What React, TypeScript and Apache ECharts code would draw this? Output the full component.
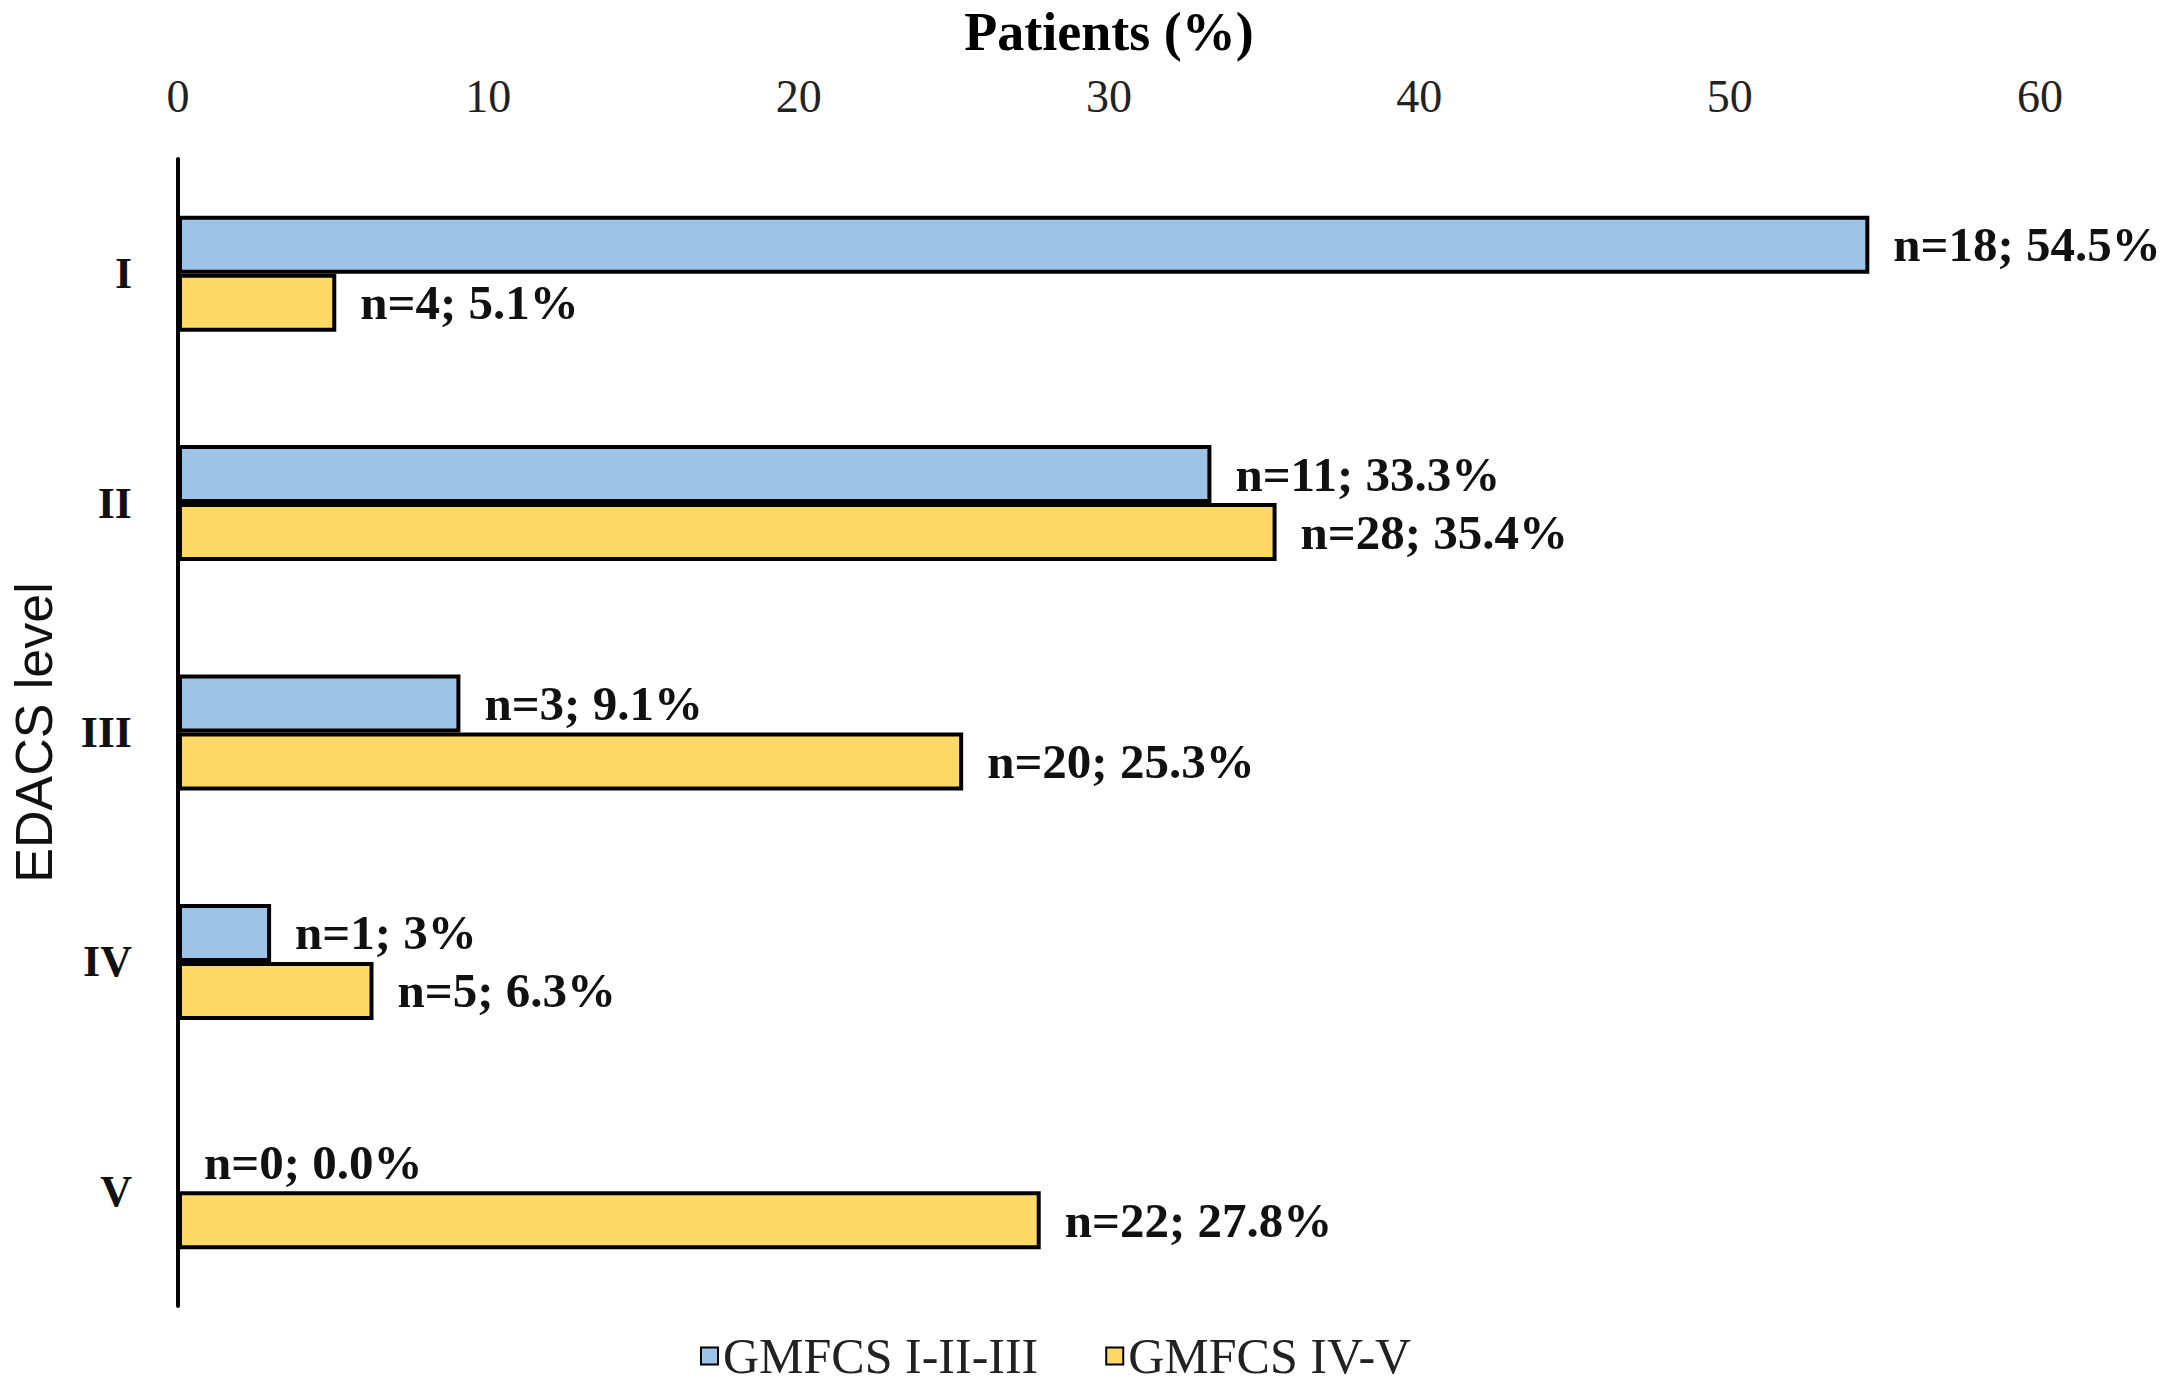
import React, { useEffect, useRef } from "react";
import * as echarts from "echarts";

const categories = ["I", "II", "III", "IV", "V"];
const seriesNames = ["GMFCS I-II-III", "GMFCS IV-V"];
const blueValues = [54.5, 33.3, 9.1, 3, 0.0];
const yellowValues = [5.1, 35.4, 25.3, 6.3, 27.8];
const blueCounts = [18, 11, 3, 1, 0];
const yellowCounts = [4, 28, 20, 5, 22];
const bluePctText = ["54.5%", "33.3%", "9.1%", "3%", "0.0%"];
const yellowPctText = ["5.1%", "35.4%", "25.3%", "6.3%", "27.8%"];
const xTicks = { min: 0, max: 60, interval: 10 };

const SERIF = "'Liberation Serif', 'Times New Roman', serif";
const SANS = "'Liberation Sans', Arial, sans-serif";

export default function App() {
  const ref = useRef<HTMLDivElement>(null);
  useEffect(() => {
    if (!ref.current) return;
    const chart = echarts.init(ref.current, null, { renderer: "svg" });
    const labelStyle = {
      show: true,
      position: "right" as const,
      distance: 24,
      fontFamily: SERIF,
      fontWeight: "bold" as const,
      fontSize: 49,
      color: "#111",
    };
    chart.setOption({
      animation: false,
      backgroundColor: "#ffffff",
      grid: { left: 146, right: 135, top: 142, bottom: 81, containLabel: false },
      legend: {
        left: 700,
        top: 1330,
        itemWidth: 17,
        itemHeight: 17,
        itemGap: 67,
        icon: "rect",
        padding: 0,
        textStyle: { fontFamily: SERIF, fontSize: 50, lineHeight: 52, color: "#222" },
        data: seriesNames,
      },
      xAxis: {
        type: "value",
        position: "top",
        min: xTicks.min,
        max: xTicks.max,
        interval: xTicks.interval,
        name: "Patients (%)",
        nameLocation: "middle",
        nameGap: 100,
        nameTextStyle: { fontFamily: SERIF, fontWeight: "bold", fontSize: 54, color: "#000" },
        axisLine: { show: false },
        axisTick: { show: false },
        splitLine: { show: false },
        axisLabel: { fontFamily: SERIF, fontSize: 46, color: "#222", margin: 40 },
      },
      yAxis: {
        type: "category",
        inverse: true,
        data: categories,
        name: "EDACS level",
        nameLocation: "middle",
        nameGap: 118,
        nameRotate: 90,
        nameTextStyle: { fontFamily: SANS, fontSize: 52, color: "#111" },
        axisLine: { show: true, lineStyle: { color: "#000", width: 4 } },
        axisTick: { show: false },
        axisLabel: { fontFamily: SERIF, fontWeight: "bold", fontSize: 44, color: "#111", margin: 46 },
      },
      series: [
        {
          name: seriesNames[0],
          type: "bar",
          barWidth: 58,
          barGap: "0%",
          data: blueValues,
          itemStyle: { color: "#9DC3E6", borderColor: "#000", borderWidth: 4 },
          label: {
            ...labelStyle,
            formatter: (p: any) => `n=${blueCounts[p.dataIndex]}; ${bluePctText[p.dataIndex]}`,
          },
        },
        {
          name: seriesNames[1],
          type: "bar",
          barWidth: 58,
          barGap: "0%",
          data: yellowValues,
          itemStyle: { color: "#FFD966", borderColor: "#000", borderWidth: 4 },
          label: {
            ...labelStyle,
            formatter: (p: any) => `n=${yellowCounts[p.dataIndex]}; ${yellowPctText[p.dataIndex]}`,
          },
        },
      ],
    });
    return () => chart.dispose();
  }, []);
  return (
    <div
      ref={ref}
      style={{ position: "fixed", left: 0, top: 0, width: 2175, height: 1387, background: "#fff" }}
    />
  );
}
